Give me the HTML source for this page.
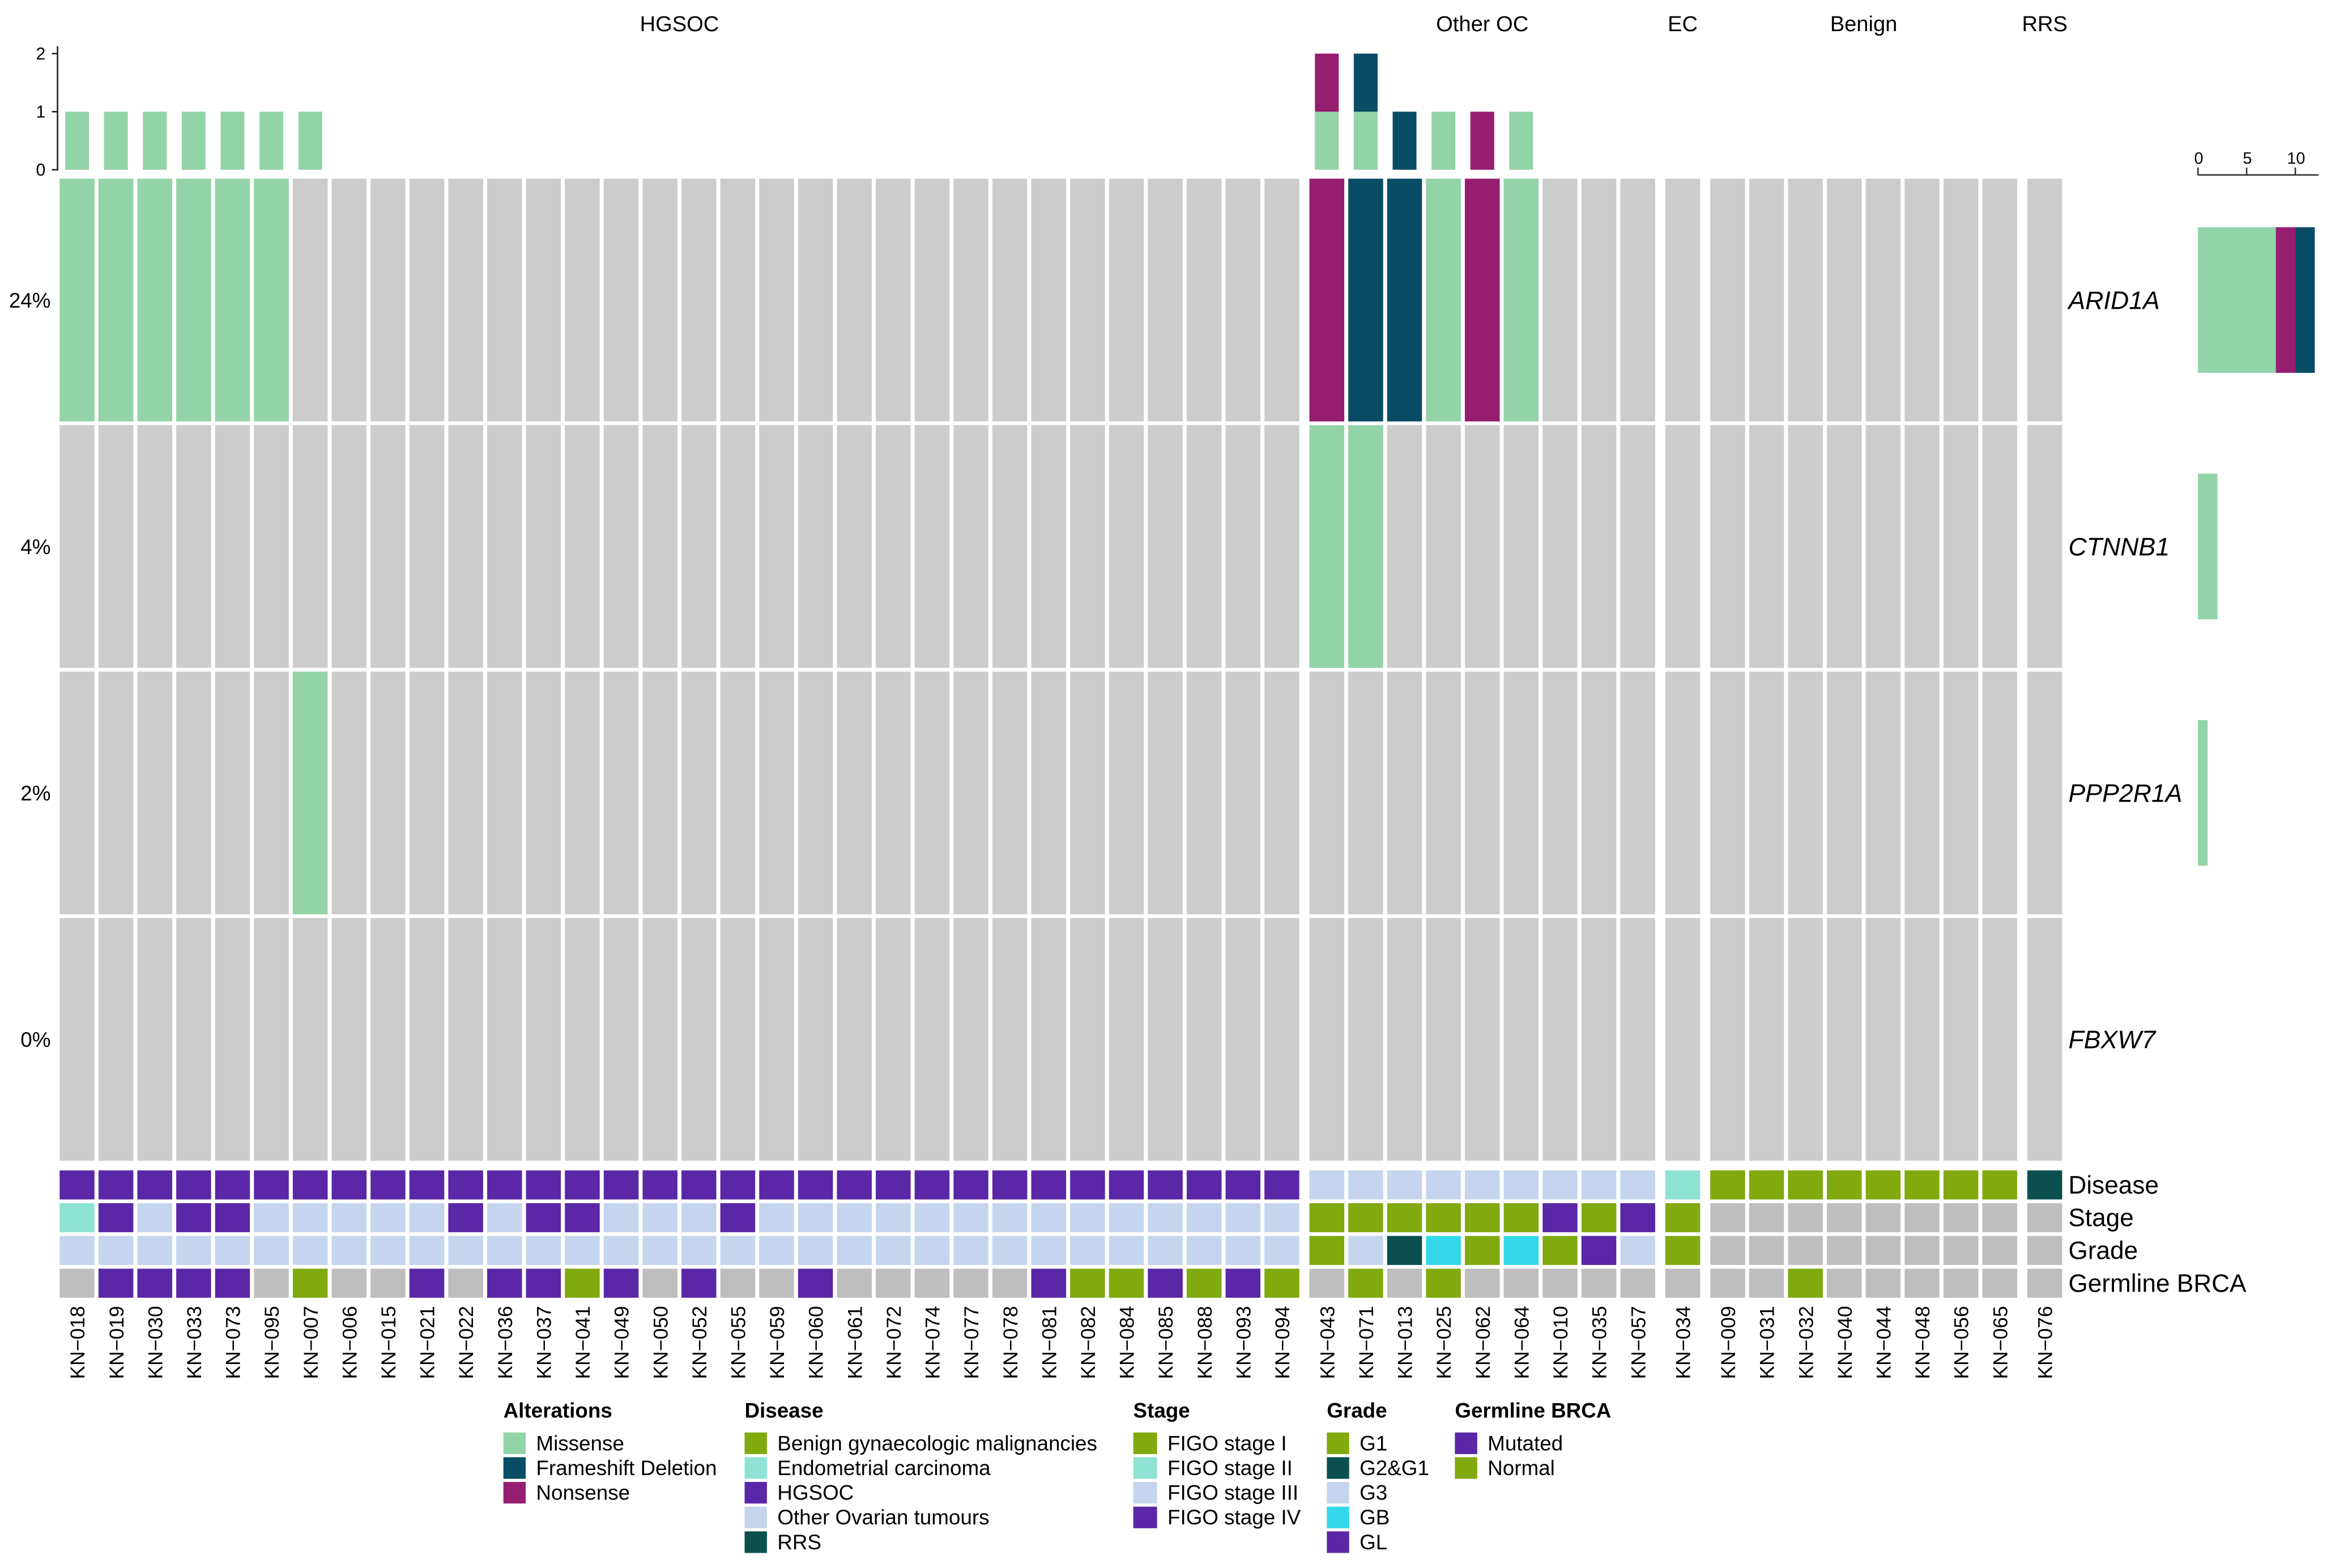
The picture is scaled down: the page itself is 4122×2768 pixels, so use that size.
<!DOCTYPE html>
<html><head><meta charset="utf-8"><style>
html,body{margin:0;padding:0;background:#fff;}
svg{display:block;font-family:"Liberation Sans",Arial,sans-serif;}
</style></head><body>
<svg id="chart" width="4122" height="2768" viewBox="0 0 1568 1053" xmlns="http://www.w3.org/2000/svg"></svg>
<script>
const samples = ['KN-018','KN-019','KN-030','KN-033','KN-073','KN-095','KN-007','KN-006','KN-015','KN-021','KN-022','KN-036','KN-037','KN-041','KN-049','KN-050','KN-052','KN-055','KN-059','KN-060','KN-061','KN-072','KN-074','KN-077','KN-078','KN-081','KN-082','KN-084','KN-085','KN-088','KN-093','KN-094',
'KN-043','KN-071','KN-013','KN-025','KN-062','KN-064','KN-010','KN-035','KN-057','KN-034',
'KN-009','KN-031','KN-032','KN-040','KN-044','KN-048','KN-056','KN-065','KN-076'];
const groupNames = ['HGSOC','Other OC','EC','Benign','RRS'];
const groupSizes = [32,9,1,8,1];
const genes = ['ARID1A','CTNNB1','PPP2R1A','FBXW7'];
const mutSamples = ['KN-018','KN-019','KN-030','KN-033','KN-073','KN-095','KN-043','KN-071','KN-013','KN-025','KN-062','KN-064','KN-043','KN-071','KN-007'];
const mutGenes =   ['ARID1A','ARID1A','ARID1A','ARID1A','ARID1A','ARID1A','ARID1A','ARID1A','ARID1A','ARID1A','ARID1A','ARID1A','CTNNB1','CTNNB1','PPP2R1A'];
const mutTypes =   ['M','M','M','M','M','M','N','F','F','M','N','M','M','M','M'];
const diseaseVals = [].concat(Array(32).fill('HGSOC'),Array(9).fill('Other'),['EC'],Array(8).fill('Benign'),['RRS']);
const stageVals = ['II','IV','III','IV','IV','III','III','III','III','III','IV','III','IV','IV','III','III','III','IV','III','III','III','III','III','III','III','III','III','III','III','III','III','III',
'I','I','I','I','I','I','IV','I','IV','I','NA','NA','NA','NA','NA','NA','NA','NA','NA'];
const gradeVals = [].concat(Array(32).fill('G3'),['G1','G3','G2G1','GB','G1','GB','G1','GL','G3','G1'],Array(9).fill('NA'));
const germVals = ['NA','Mut','Mut','Mut','Mut','NA','Nor','NA','NA','Mut','NA','Mut','Mut','Nor','Mut','NA','Mut','NA','NA','Mut','NA','NA','NA','NA','NA','Mut','Nor','Nor','Mut','Nor','Mut','Nor',
'NA','Nor','NA','Nor','NA','NA','NA','NA','NA','NA','NA','NA','Nor','NA','NA','NA','NA','NA','NA'];
const topTicks = [0,1,2];
const rightTicks = [0,5,10];

const C = {M:'#93d3a8',F:'#094c65',N:'#961e71',grey:'#cccccc',na:'#bebebe',purple:'#5a27a6',green:'#80aa0e',light:'#c5d5ee',teal:'#8fe3d3',dark:'#0b4f4f',cyan:'#33d9ea'};
const typeOrder = ['M','N','F'];
const diseaseCol = {HGSOC:C.purple,Other:C.light,EC:C.teal,Benign:C.green,RRS:C.dark};
const stageCol = {I:C.green,II:C.teal,III:C.light,IV:C.purple,NA:C.na};
const gradeCol = {G1:C.green,G2G1:C.dark,G3:C.light,GB:C.cyan,GL:C.purple,NA:C.na};
const germCol = {Mut:C.purple,Nor:C.green,NA:C.na};

const svg = document.getElementById('chart');
const NS = 'http://www.w3.org/2000/svg';
function el(tag, attrs, parent){const e=document.createElementNS(NS,tag);for(const k in attrs)e.setAttribute(k,attrs[k]);(parent||svg).appendChild(e);return e;}
function txt(s, attrs){const e=el('text',attrs);e.textContent=s;return e;}

const X0=40, P=26.1, GAP=2.7, EXTRA=4.1, CW=P-GAP;
const groupIdx=[];groupSizes.forEach((n,g)=>{for(let i=0;i<n;i++)groupIdx.push(g);});
function xCol(i){return X0+i*P+groupIdx[i]*EXTRA;}
const ROW0=120, RP=165.5, RH=163;
function yRow(r){return ROW0+r*RP;}
const TOPBASE=114, TOPUNIT=39;
function yTop(v){return TOPBASE-v*TOPUNIT;}
const RX0=1476, RUNIT=6.54;
function xRight(v){return RX0+v*RUNIT;}

function altOf(s,g){const out=[];for(let k=0;k<mutSamples.length;k++){if(mutSamples[k]===s&&mutGenes[k]===g)out.push(mutTypes[k]);}return out;}

groupNames.forEach((g,gi)=>{
  const first=groupIdx.indexOf(gi), last=groupIdx.lastIndexOf(gi);
  const cx=(xCol(first)+xCol(last)+CW)/2;
  const t=txt(g,{x:cx,y:21,'font-size':14.5,'text-anchor':'middle',fill:'#000'});
  
  
});

const ax=el('line',{x1:38.6,y1:31,x2:38.6,y2:yTop(0)+0.5,stroke:'#222','stroke-width':1});


topTicks.forEach(v=>{
  const tk=el('line',{x1:34.8,y1:yTop(v),x2:38.6,y2:yTop(v),stroke:'#222','stroke-width':1});
  
  
  const t=txt(String(v),{x:30.5,y:yTop(v)+4,'font-size':11.5,'text-anchor':'end',fill:'#000'});
  
  
});

samples.forEach((s,i)=>{
  let acc=0;
  const types=[];genes.forEach(g=>altOf(s,g).forEach(t=>types.push(t)));
  typeOrder.forEach(t=>{
    types.filter(x=>x===t).forEach(()=>{
      const r=el('rect',{x:xCol(i)+(CW-16)/2,y:yTop(acc+1),width:16,height:TOPUNIT,fill:C[t]});
      
      
      acc++;
    });
  });
});

genes.forEach((g,r)=>{
  samples.forEach((s,i)=>{
    const a=altOf(s,g);
    const c=el('rect',{x:xCol(i),y:yRow(r),width:CW,height:RH,fill:C.grey});
    
    
    if(a.length){
      const m=el('rect',{x:xCol(i),y:yRow(r),width:CW,height:RH,fill:C[a[0]]});
      
      
    }
  });
  const count=mutGenes.filter(x=>x===g).length;
  const pt=txt(Math.round(count/samples.length*100)+'%',{x:34,y:yRow(r)+RH/2+5,'font-size':14,'text-anchor':'end',fill:'#000'});
  
  
  const gl=txt(g,{x:1389,y:yRow(r)+RH/2+6,'font-size':17,'font-style':'italic',fill:'#000'});
  
  
  let acc=0;
  typeOrder.forEach(t=>{
    let n=0;for(let k=0;k<mutGenes.length;k++)if(mutGenes[k]===g&&mutTypes[k]===t)n++;
    if(n>0){
      const b=el('rect',{x:xRight(acc),y:yRow(r)+RH*0.2,width:n*RUNIT,height:RH*0.6,fill:C[t]});
      
      
      acc+=n;
    }
  });
});

const rax=el('line',{x1:RX0,y1:117.5,x2:1557,y2:117.5,stroke:'#333','stroke-width':1});


rightTicks.forEach(v=>{
  const tk=el('line',{x1:xRight(v),y1:112.5,x2:xRight(v),y2:117.5,stroke:'#333','stroke-width':1});
  
  
  const t=txt(String(v),{x:xRight(v)+0.5,y:110,'font-size':11,'text-anchor':'middle',fill:'#000'});
  
  
});

const annNames=['Disease','Stage','Grade','Germline BRCA'];
const annVals=[diseaseVals,stageVals,gradeVals,germVals];
const annCols=[diseaseCol,stageCol,gradeCol,germCol];
annNames.forEach((nm,a)=>{
  const y=786+a*22;
  samples.forEach((s,i)=>{
    const r=el('rect',{x:xCol(i),y:y,width:CW,height:19.5,fill:annCols[a][annVals[a][i]]});
    
    
  });
  const t=txt(nm,{x:1389,y:y+15.5,'font-size':16.8,fill:'#000'});
  
  
});

samples.forEach((s,i)=>{
  const cx=xCol(i)+CW/2+5;
  const t=txt(s.replace('-','\u2212'),{x:cx,y:877,'font-size':13.5,'text-anchor':'end',transform:'rotate(-90 '+cx+' 877)',fill:'#000'});
  
  
});

const legends=[
  {title:'Alterations',x:338,tx:358,items:[['Missense',C.M],['Frameshift Deletion',C.F],['Nonsense',C.N]]},
  {title:'Disease',x:500,tx:520,items:[['Benign gynaecologic malignancies',C.green],['Endometrial carcinoma',C.teal],['HGSOC',C.purple],['Other Ovarian tumours',C.light],['RRS',C.dark]]},
  {title:'Stage',x:761,tx:782,items:[['FIGO stage I',C.green],['FIGO stage II',C.teal],['FIGO stage III',C.light],['FIGO stage IV',C.purple]]},
  {title:'Grade',x:891,tx:911,items:[['G1',C.green],['G2&G1',C.dark],['G3',C.light],['GB',C.cyan],['GL',C.purple]]},
  {title:'Germline BRCA',x:977,tx:997,items:[['Mutated',C.purple],['Normal',C.green]]}
];
legends.forEach(L=>{
  const slug=L.title.toLowerCase().replace(/\s+/g,'-');
  const t=txt(L.title,{x:L.x,y:952,'font-size':14,'font-weight':'bold',fill:'#000'});
  
  
  L.items.forEach((it,k)=>{
    const y=962+k*16.6;
    const sw=el('rect',{x:L.x,y:y,width:L.tx-L.x-5,height:14.5,fill:it[1]});
    
    
    const lt=txt(it[0],{x:L.tx+2,y:y+12,'font-size':14,fill:'#000'});
    
    
  });
});
</script>
</body></html>
